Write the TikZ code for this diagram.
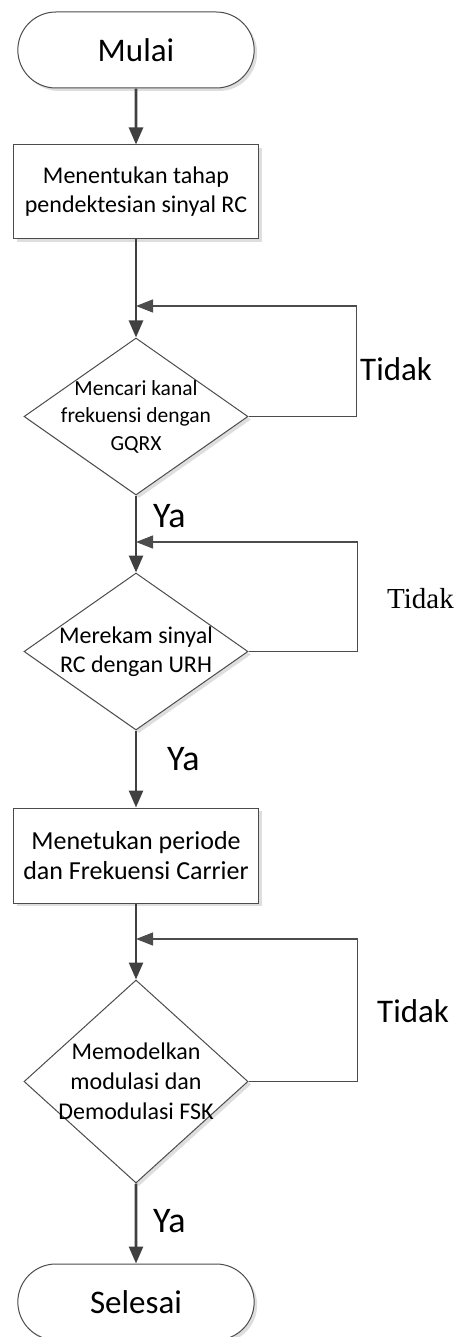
\documentclass[tikz,border=0pt]{standalone}
\usepackage{fontspec}
\setmainfont{Carlito}
\newfontfamily\serifteks{Liberation Serif}
\usetikzlibrary{shapes.geometric,shapes.misc,arrows.meta,shadows}

\begin{document}
\begin{tikzpicture}[x=1pt,y=-1pt,
    garis/.style={draw=black!75, line width=2.6pt, -{Triangle[length=17pt,width=14pt]}},
    balik/.style={draw=black!70, line width=1.1pt, -{Triangle[length=17pt,width=13pt]}},
    bentuk/.style={draw=black!70, line width=1pt, fill=white,
      drop shadow={shadow xshift=3pt, shadow yshift=-3pt, fill=black!13, opacity=1}},
    terminal/.style={bentuk, rounded rectangle, minimum width=243pt, minimum height=76pt,
      font=\fontsize{33}{40}\selectfont},
    proses/.style={bentuk, rectangle, minimum width=245pt, align=center},
    cek/.style={bentuk, diamond, minimum width=224pt, inner sep=0pt},
    ket/.style={inner sep=0pt, anchor=base west, font=\fontsize{33}{40}\selectfont},
    ya/.style={inner sep=0pt, anchor=base west, font=\fontsize{36}{43}\selectfont}]
  \useasboundingbox (0,0) rectangle (461,1337);

  % Start and end
  \node[terminal] (mulai) at (136,50) {Mulai};
  \node[terminal] (selesai) at (136,1302) {Selesai};

  % Process boxes
  \node[proses, minimum height=94pt, font=\fontsize{24}{29}\selectfont] (tahap) at (136,192)
    {Menentukan tahap\\pendektesian sinyal RC};
  \node[proses, minimum height=95pt, font=\fontsize{26}{30.5}\selectfont] (periode) at (136,855.5)
    {Menetukan periode\\dan Frekuensi Carrier};

  % Decisions
  \node[cek, minimum height=157pt,
    label={[align=center, font=\fontsize{21.5}{27.5}\selectfont]center:{Mencari kanal\\frekuensi dengan\\GQRX}}]
    (kanal) at (136,416.5) {};
  \node[cek, minimum height=157pt,
    label={[align=center, font=\fontsize{24}{29}\selectfont]center:{Merekam sinyal\\RC dengan URH}}]
    (rekam) at (136,651.5) {};
  \node[cek, minimum height=203pt,
    label={[align=center, font=\fontsize{24}{30}\selectfont]center:{Memodelkan\\modulasi dan\\Demodulasi FSK}}]
    (model) at (136,1081.5) {};

  % Junctions of the loops
  \coordinate (j1) at (136,306);
  \coordinate (j2) at (136,542);
  \coordinate (j3) at (136,939);

  % Main flow
  \draw[garis] (mulai) -- (tahap);
  \draw[garis] (tahap) -- (kanal);
  \draw[garis] (kanal) -- (rekam);
  \draw[garis] (rekam) -- (periode);
  \draw[garis] (periode) -- (model);
  \draw[garis] (model) -- (selesai);

  % Loops back (Tidak)
  \draw[balik] (kanal.east) -- ++(108,0) |- (j1);
  \draw[balik] (rekam.east) -- ++(109,0) |- (j2);
  \draw[balik] (model.east) -- ++(109,0) |- (j3);

  % Labels
  \node[ket] (tidak1) at (360,380) {Tidak};
  \node[ket, font=\serifteks\fontsize{29}{35}\selectfont] (tidak2) at (387,608) {Tidak};
  \node[ket] (tidak3) at (377,1022) {Tidak};
  \node[ya] (ya1) at (153,527) {Ya};
  \node[ya] (ya2) at (167,770) {Ya};
  \node[ya] (ya3) at (153,1232) {Ya};
\end{tikzpicture}
\end{document}
